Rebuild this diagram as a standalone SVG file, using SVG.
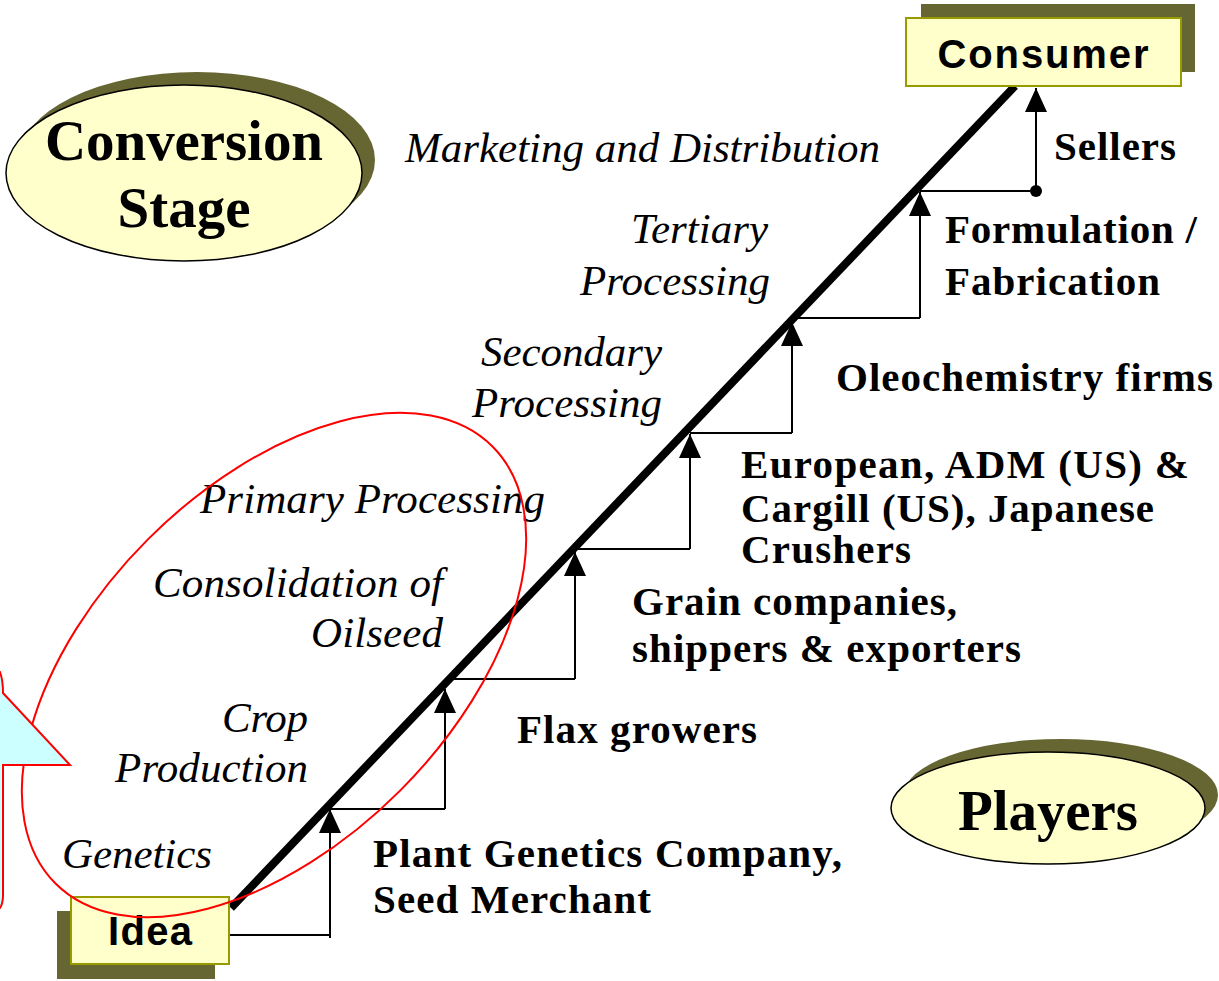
<svg xmlns="http://www.w3.org/2000/svg" width="1219" height="981" viewBox="0 0 1219 981">
<style>
.box{fill:#FFFFCC;stroke:#999900;stroke-width:2}
.shadow{fill:#666633}
.ell{fill:#FFFFCC;stroke:#000;stroke-width:1.5}
.sans{font-family:"Liberation Sans",Arial,sans-serif;font-weight:bold;font-size:40px;fill:#000}
.big{font-family:"Liberation Serif","Times New Roman",serif;font-weight:bold;font-size:57px;fill:#000}
.it{font-family:"Liberation Serif","Times New Roman",serif;font-style:italic;font-size:43px;fill:#000}
.bd{font-family:"Liberation Serif","Times New Roman",serif;font-weight:bold;font-size:41px;fill:#000}
.conn{stroke:#000;stroke-width:2;fill:none}
</style>
<defs>
<marker id="ah" markerUnits="userSpaceOnUse" markerWidth="24" markerHeight="22" refX="24" refY="11" orient="auto" viewBox="0 0 24 22">
<path d="M0,0 L24,11 L0,22 Z" fill="#000"/>
</marker>
</defs>
<rect width="1219" height="981" fill="#fff"/>

<g id="connectors">
<line x1="231" y1="908" x2="1015" y2="86" stroke="#000" stroke-width="8"/>
<polyline class="conn" points="229,935 330,935 330,938"/>
<line class="conn" x1="330" y1="938" x2="330" y2="809" marker-end="url(#ah)"/>
<line class="conn" x1="330" y1="809" x2="445" y2="809"/>
<line class="conn" x1="445" y1="809" x2="445" y2="689" marker-end="url(#ah)"/>
<line class="conn" x1="445" y1="679" x2="575" y2="679"/>
<line class="conn" x1="575" y1="679" x2="575" y2="552" marker-end="url(#ah)"/>
<line class="conn" x1="575" y1="549" x2="690" y2="549"/>
<line class="conn" x1="690" y1="549" x2="690" y2="434" marker-end="url(#ah)"/>
<line class="conn" x1="690" y1="433" x2="792" y2="433"/>
<line class="conn" x1="792" y1="433" x2="792" y2="322" marker-end="url(#ah)"/>
<line class="conn" x1="792" y1="318" x2="920" y2="318"/>
<line class="conn" x1="920" y1="318" x2="920" y2="192" marker-end="url(#ah)"/>
<line class="conn" x1="920" y1="191" x2="1036" y2="191"/>
<circle cx="1036" cy="191" r="6" fill="#000"/>
<line class="conn" x1="1036" y1="191" x2="1036" y2="88" marker-end="url(#ah)"/>
</g>

<g id="consumer">
<rect class="shadow" x="921" y="4" width="274" height="68"/>
<rect class="box" x="906" y="18" width="275" height="68"/>
<text class="sans" x="1043" y="68" text-anchor="middle" textLength="211">Consumer</text>
</g>

<g id="idea">
<rect class="shadow" x="57" y="911" width="158" height="68"/>
<rect class="box" x="71" y="897" width="158" height="67"/>
<text class="sans" x="150" y="945" text-anchor="middle" textLength="84">Idea</text>
</g>

<g id="conversion-stage">
<ellipse class="shadow" cx="197" cy="160" rx="178" ry="88"/>
<ellipse class="ell" cx="184" cy="173" rx="178" ry="88"/>
<text class="big" x="184" y="160" text-anchor="middle" textLength="278">Conversion</text>
<text class="big" x="184" y="227" text-anchor="middle" textLength="133">Stage</text>
</g>

<g id="players">
<ellipse class="shadow" cx="1061" cy="795" rx="157" ry="56"/>
<ellipse class="ell" cx="1048" cy="808" rx="157" ry="56"/>
<text class="big" x="1048" y="830" text-anchor="middle" textLength="180">Players</text>
</g>

<g id="stages">
<text class="it" x="405" y="162" textLength="475">Marketing and Distribution</text>
<text class="it" x="768" y="243" text-anchor="end" textLength="137">Tertiary</text>
<text class="it" x="770" y="295" text-anchor="end" textLength="190">Processing</text>
<text class="it" x="662" y="366" text-anchor="end" textLength="181">Secondary</text>
<text class="it" x="662" y="417" text-anchor="end" textLength="190">Processing</text>
<text class="it" x="200" y="513" textLength="345">Primary Processing</text>
<text class="it" x="443" y="597" text-anchor="end" textLength="290">Consolidation of</text>
<text class="it" x="443" y="647" text-anchor="end" textLength="132">Oilseed</text>
<text class="it" x="308" y="732" text-anchor="end" textLength="86">Crop</text>
<text class="it" x="308" y="782" text-anchor="end" textLength="193">Production</text>
<text class="it" x="62" y="868" textLength="150">Genetics</text>
</g>

<g id="players-labels">
<text class="bd" x="1054" y="160" textLength="122">Sellers</text>
<text class="bd" x="945" y="243" textLength="252">Formulation /</text>
<text class="bd" x="945" y="295" textLength="215">Fabrication</text>
<text class="bd" x="836" y="391" textLength="377">Oleochemistry firms</text>
<text class="bd" x="741" y="478" textLength="448">European, ADM (US) &amp;</text>
<text class="bd" x="741" y="522" textLength="413">Cargill (US), Japanese</text>
<text class="bd" x="741" y="563" textLength="170">Crushers</text>
<text class="bd" x="632" y="615" textLength="325">Grain companies,</text>
<text class="bd" x="632" y="662" textLength="389">shippers &amp; exporters</text>
<text class="bd" x="517" y="743" textLength="240">Flax growers</text>
<text class="bd" x="373" y="867" textLength="469">Plant Genetics Company,</text>
<text class="bd" x="373" y="913" textLength="278">Seed Merchant</text>
</g>

<g id="highlight">
<ellipse cx="274" cy="665" rx="309" ry="178" transform="rotate(-45 274 665)" fill="none" stroke="#FF0000" stroke-width="2"/>
</g>

<g id="cyan-arrow">
<path d="M-10,672 L0,672 C3,680 3,688 3,693 L70,765 L3,765 L3,895 C3,900 2,905 0,908 L-10,908 Z" fill="#CCFFFF" stroke="#FF0000" stroke-width="2"/>
</g>
</svg>
